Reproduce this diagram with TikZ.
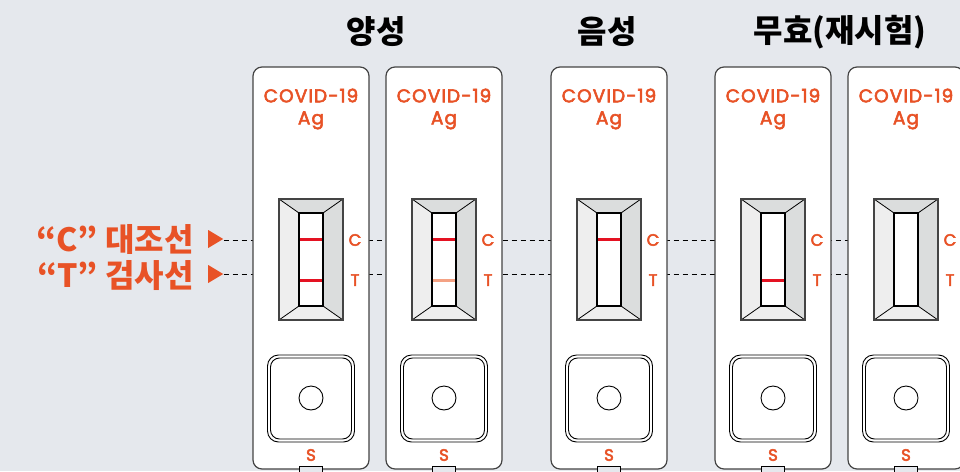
\documentclass[tikz,border=0pt]{standalone}
\usepackage{fontspec}
\setmainfont{Noto Sans CJK KR}
\newfontfamily\brandfont{Poppins}[FakeBold=3, LetterSpace=6]
\usetikzlibrary{positioning,shapes.geometric}
\definecolor{ctOrange}{RGB}{232,82,38}
\definecolor{ctRed}{RGB}{228,18,34}
\definecolor{ctPale}{RGB}{244,162,132}
\definecolor{ctBack}{RGB}{229,232,237}
\definecolor{ctEdge}{RGB}{68,68,68}
\definecolor{ctLight}{RGB}{238,238,238}
\definecolor{ctDark}{RGB}{219,221,221}

\begin{document}
\begin{tikzpicture}[
    x=1pt, y=-1pt,
    card/.style={draw=ctEdge, line width=1.2pt, fill=white, rounded corners=9pt},
    heading/.style={font=\fontsize{32}{33}\selectfont\bfseries, text=black},
    marker/.style={font=\fontsize{32}{33}\selectfont\bfseries, text=ctOrange, anchor=east, inner sep=0pt},
    pointer/.style={isosceles triangle, isosceles triangle stretches, fill=ctOrange, inner sep=0pt, minimum width=18pt, minimum height=15pt},
    brand/.style={font=\brandfont\fontsize{18.5}{22}\selectfont, text=ctOrange, align=center},
    letter/.style={font=\brandfont\fontsize{16.5}{17}\selectfont, text=ctOrange},
    guide/.style={dash pattern=on 5pt off 4pt, line width=0.9pt},
    band/.style={line width=3pt}
]
  \fill[ctBack] (0,0) rectangle (960,471);
  \useasboundingbox (0,0) rectangle (960,471);
  \clip (0,0) rectangle (960,471);

  % group headings
  \node[heading] (pos) at (376,32) {양성};
  \node[heading] (neg) at (607,32) {음성};
  \node[heading] (inv) at (840,32) {무효(재시험)};

  % control / test line markers
  \node[marker] (ctext) at (194,239) {“C” 대조선};
  \node[marker] (ttext) at (194,276) {“T” 검사선};
  \node[pointer, right=14pt of ctext] (cmark) {};
  \node[pointer] (tmark) at (cmark |- 0,274) {};
  \coordinate (cend) at (960,240);
  \coordinate (tend) at (960,274);
  \draw[guide] (cmark.apex |- cend) -- (cend);
  \draw[guide] (tmark.apex |- tend) -- (tend);

  % the five cassettes
  \foreach \cx/\cband/\tband [count=\i] in {311/ctRed/ctRed, 444/ctRed/ctPale, 609/ctRed/none, 773/none/ctRed, 906/none/none} {
    \draw[card] (\cx-58,67) rectangle (\cx+58,469);
    \node[brand] (brand\i) at (\cx,109) {COVID-19\\Ag};

    % result window
    \fill[ctDark] (\cx-32,199) -- (\cx+32,199) -- (\cx+12,213) -- (\cx-12,213) -- cycle;
    \fill[ctDark] (\cx+32,199) -- (\cx+32,320) -- (\cx+12,306) -- (\cx+12,213) -- cycle;
    \fill[ctLight] (\cx-32,199) -- (\cx-12,213) -- (\cx-12,306) -- (\cx-32,320) -- cycle;
    \fill[ctLight] (\cx-32,320) -- (\cx-12,306) -- (\cx+12,306) -- (\cx+32,320) -- cycle;
    \draw[line width=0.8pt] (\cx-32,199) -- (\cx-12,213) (\cx+32,199) -- (\cx+12,213)
      (\cx-32,320) -- (\cx-12,306) (\cx+32,320) -- (\cx+12,306);
    \draw[line width=1.2pt, fill=white] (\cx-12,213) rectangle (\cx+12,306);
    \draw[line width=1.4pt, draw=ctEdge] (\cx-32,199) rectangle (\cx+32,320);
    \path[band, draw=\cband] (\cx-11.4,239) -- (\cx+11.4,239);
    \path[band, draw=\tband] (\cx-11.4,280) -- (\cx+11.4,280);
    \node[letter] (c\i) at (\cx+44,240) {C};
    \node[letter] (t\i) at (\cx+44,280) {T};

    % sample well
    \draw[line width=0.9pt, rounded corners=11pt] (\cx-43.5,355) rectangle (\cx+43.5,442);
    \draw[line width=0.9pt, rounded corners=9pt] (\cx-40.5,358) rectangle (\cx+40.5,439);
    \draw[line width=0.9pt] (\cx,398) circle (12);
    \node[letter] (s\i) at (\cx,455) {S};
    \draw[line width=1pt, fill=ctBack] (\cx-11.5,466) rectangle (\cx+11.5,476);
  }
\end{tikzpicture}
\end{document}
